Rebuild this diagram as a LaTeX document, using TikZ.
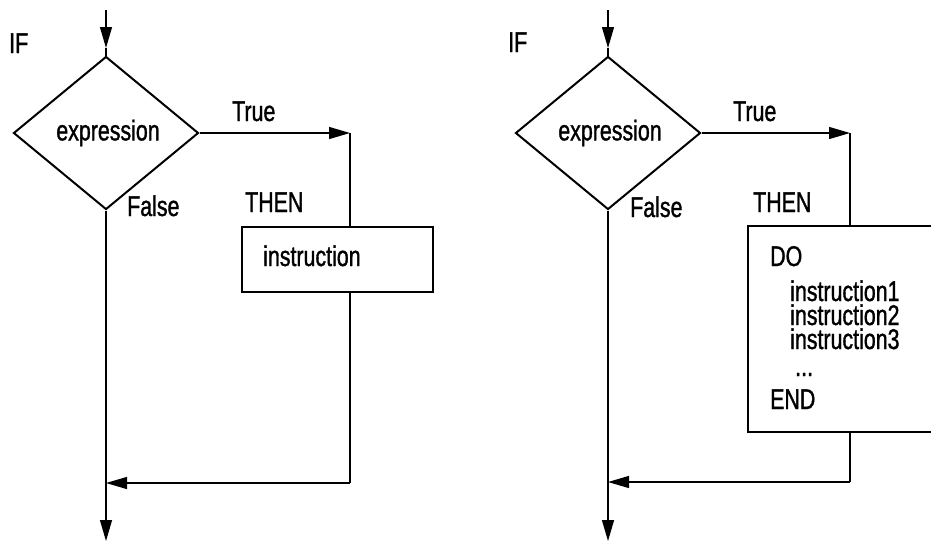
\documentclass[tikz,border=0pt]{standalone}
\usepackage{fontspec}
\setmainfont[FakeStretch=0.75,FakeBold=1.2]{Liberation Sans}
\usetikzlibrary{shapes.geometric,arrows.meta}
\begin{document}
\begin{tikzpicture}[x=1pt,y=-1pt,
  txt/.style={font=\fontsize{28.5}{28.5}\selectfont},
  lbl/.style={txt, anchor=base west, inner sep=0pt},
  dec/.style={txt, draw, shape=diamond, line width=2pt, minimum width=185pt, minimum height=153pt, inner sep=0pt},
  blk/.style={draw, line width=2pt, rectangle, inner sep=0pt},
  conn/.style={line width=1.3pt},
  tip/.style={-{Triangle[length=21pt,width=12pt]}}
]
\useasboundingbox (0,0) rectangle (931,542);
\clip (0,0) rectangle (931,542);

% ---------------- left panel ----------------
\node[lbl] (if1) at (9,53) {IF};
\node[dec] (d1) at (106,133) {\hspace{4pt}expression};
\node[lbl] (tr1) at (232,121) {True};
\node[lbl] (fa1) at (127,216) {False};
\node[lbl] (th1) at (245,212) {THEN};
\node[blk, minimum width=191pt, minimum height=65pt] (b1) at (337.5,259.5) {};
\node[lbl] (in1) at (263,266) {instruction};

\coordinate (s1) at (106,10);
\coordinate (a1) at (106,48);
\coordinate (c1) at (350,133);
\coordinate (e1) at (350,483);
\coordinate (m1) at (106,483);
\coordinate (o1) at (106,541);
\draw[conn,tip] (s1) -- (a1);
\draw[conn] (a1) -- (d1.north);
\draw[conn,tip] (d1.east) -- (c1);
\draw[conn] (c1) -- (c1 |- b1.north);
\draw[conn] (b1.south -| e1) -- (e1);
\draw[conn,tip] (e1) -- (m1);
\draw[conn,tip] (d1.south) -- (o1);

% ---------------- right panel ----------------
\node[lbl] (if2) at (508,52) {IF};
\node[dec] (d2) at (608,133) {\hspace{4pt}expression};
\node[lbl] (tr2) at (733,121) {True};
\node[lbl] (fa2) at (630,217) {False};
\node[lbl] (th2) at (753,212) {THEN};
\node[blk, anchor=north west, minimum width=230pt, minimum height=206pt] (b2) at (747,225) {};
\node[lbl] (do2) at (770,266) {DO};
\node[lbl] (i21) at (790,301) {instruction1};
\node[lbl] (i22) at (790,325) {instruction2};
\node[lbl] (i23) at (790,349) {instruction3};
\node[lbl] (dt2) at (795,376) {...};
\node[lbl] (en2) at (770,409) {END};

\coordinate (s2) at (608,10);
\coordinate (a2) at (608,48);
\coordinate (c2) at (850,133);
\coordinate (e2) at (850,482);
\coordinate (m2) at (608,482);
\coordinate (o2) at (608,541);
\draw[conn,tip] (s2) -- (a2);
\draw[conn] (a2) -- (d2.north);
\draw[conn,tip] (d2.east) -- (c2);
\draw[conn] (c2) -- (c2 |- b2.north);
\draw[conn] (b2.south -| e2) -- (e2);
\draw[conn,tip] (e2) -- (m2);
\draw[conn,tip] (d2.south) -- (o2);
\end{tikzpicture}
\end{document}
